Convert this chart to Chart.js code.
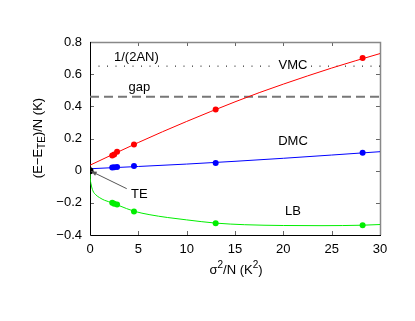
<!DOCTYPE html>
<html>
<head>
<meta charset="utf-8">
<script src="https://cdn.jsdelivr.net/npm/chart.js@4/dist/chart.umd.min.js"></script>
<style>
html,body{margin:0;padding:0;background:#fff;}
#wrap{width:415px;height:321px;position:relative;}
</style>
</head>
<body>
<div id="wrap"><canvas id="c" width="415" height="321"></canvas></div>
<script>
// ---- data ----
const xTicks = [0, 5, 10, 15, 20, 25, 30];
const yTicks = [-0.4, -0.2, 0, 0.2, 0.4, 0.6, 0.8];

// measured points (sigma^2/N)
const ptX   = [2.3, 2.5, 2.8, 4.55, 13.0, 28.2];
const vmcY  = [0.095, 0.100, 0.118, 0.163, 0.380, 0.700];
const dmcY  = [0.020, 0.021, 0.023, 0.029, 0.047, 0.111];
const lbY   = [-0.200, -0.206, -0.210, -0.254, -0.327, -0.340];
const teX   = [0];
const teY   = [0];

// fitted curves
const vmcFitX = [0, 2.5, 5, 7.5, 10, 12.5, 15, 17.5, 20, 22.5, 25, 27.5, 30];
const vmcFitY = [0.034, 0.105, 0.175, 0.242, 0.306, 0.368, 0.428, 0.485, 0.538, 0.589, 0.638, 0.684, 0.728];
const dmcFitX = [0, 10, 20, 30];
const dmcFitY = [0.012, 0.041, 0.077, 0.118];
const lbFitX = [0, 0.02, 0.1, 0.3, 0.6, 1, 1.5, 2.3, 3, 4.55, 6.2, 8, 10, 13, 16, 20, 24, 28.2, 30];
const lbFitY = [0, -0.04, -0.08, -0.125, -0.150, -0.168, -0.184, -0.200, -0.217, -0.252, -0.274, -0.291, -0.306, -0.326, -0.336, -0.341, -0.342, -0.339, -0.335];

// reference levels
const levelX = [0, 30];
const invAN = 0.65;
const gapLevel = 0.46;

// text labels [text, x, y]
const labels = [
  ['1/(2AN)', 4.8, 0.705, false],
  ['gap', 5.1, 0.516, false],
  ['VMC', 21.0, 0.655, true],
  ['DMC', 21.0, 0.182, false],
  ['LB', 21.0, -0.253, false],
  ['TE', 5.1, -0.149, false]
];
const arrowFrom = [3.8, -0.112];
const arrowTo = [0.12, -0.004];

const zip = (xs, ys) => xs.map((x, i) => ({x: x, y: ys[i]}));
const FONT = "'Liberation Sans', Arial, Helvetica, sans-serif";

const fmt = v => {
  const r = Math.round(v * 10) / 10;
  if (r === 0) return '0';
  const s = Math.abs(r).toString();
  return (r < 0 ? '\u2212' : '') + s;
};

const framePlugin = {
  id: 'frame',
  beforeDatasetsDraw(chart) {
    const {ctx, chartArea: a, scales: {x, y}} = chart;
    ctx.save();
    // ticks (inward)
    ctx.strokeStyle = '#666';
    ctx.lineWidth = 1;
    ctx.beginPath();
    xTicks.forEach(v => {
      if (v === 0 || v === 30) return;
      const px = Math.round(x.getPixelForValue(v)) + 0.5;
      ctx.moveTo(px, a.bottom); ctx.lineTo(px, a.bottom - 4);
      ctx.moveTo(px, a.top); ctx.lineTo(px, a.top + 4);
    });
    yTicks.forEach(v => {
      if (v === -0.4 || v === 0.8) return;
      const py = Math.round(y.getPixelForValue(v)) + 0.5;
      ctx.moveTo(a.left, py); ctx.lineTo(a.left + 4, py);
      ctx.moveTo(a.right, py); ctx.lineTo(a.right - 4, py);
    });
    ctx.stroke();
    // top and right (gray)
    ctx.strokeStyle = '#888';
    ctx.lineWidth = 1.5;
    ctx.beginPath();
    ctx.moveTo(a.left, a.top + 0.5); ctx.lineTo(a.right + 0.5, a.top + 0.5);
    ctx.lineTo(a.right + 0.5, a.bottom);
    ctx.stroke();
    // left and bottom (black)
    ctx.strokeStyle = '#000';
    ctx.lineWidth = 1;
    ctx.beginPath();
    ctx.moveTo(Math.round(a.left) + 0.5, a.top);
    ctx.lineTo(Math.round(a.left) + 0.5, Math.round(a.bottom) + 0.5);
    ctx.lineTo(a.right + 1, Math.round(a.bottom) + 0.5);
    ctx.stroke();
    ctx.restore();
  },
  afterDatasetsDraw(chart) {
    const {ctx, scales: {x, y}} = chart;
    ctx.save();
    ctx.font = '13px ' + FONT;
    ctx.textAlign = 'center';
    ctx.textBaseline = 'middle';
    labels.forEach(([t, lx, ly, bg]) => {
      const px = x.getPixelForValue(lx), py = y.getPixelForValue(ly);
      if (bg) {
        const w = ctx.measureText(t).width;
        ctx.fillStyle = '#fff';
        ctx.fillRect(px - w / 2 - 3, py - 7, w + 6, 14);
      }
      ctx.fillStyle = '#000';
      ctx.fillText(t, px, py);
    });
    // arrow
    const x1 = x.getPixelForValue(arrowFrom[0]), y1 = y.getPixelForValue(arrowFrom[1]);
    const x2 = x.getPixelForValue(arrowTo[0]), y2 = y.getPixelForValue(arrowTo[1]);
    ctx.strokeStyle = '#555';
    ctx.fillStyle = '#555';
    ctx.lineWidth = 1;
    ctx.beginPath(); ctx.moveTo(x1, y1); ctx.lineTo(x2, y2); ctx.stroke();
    const ang = Math.atan2(y2 - y1, x2 - x1), L = 6, W = 0.4;
    ctx.beginPath();
    ctx.moveTo(x2, y2);
    ctx.lineTo(x2 - L * Math.cos(ang - W), y2 - L * Math.sin(ang - W));
    ctx.lineTo(x2 - L * Math.cos(ang + W), y2 - L * Math.sin(ang + W));
    ctx.closePath(); ctx.fill();
    ctx.restore();
  },
  afterDraw(chart) {
    const {ctx, chartArea: a} = chart;
    const drawRich = (segs, cx, cy) => {
      let total = 0;
      segs.forEach(s => { ctx.font = (s[1] ? '10px ' : '13px ') + FONT; s.w = ctx.measureText(s[0]).width; total += s.w; });
      let px = cx - total / 2;
      segs.forEach(s => {
        ctx.font = (s[1] ? '10px ' : '13px ') + FONT;
        const off = s[1] === 'sub' ? 4 : (s[1] === 'sup' ? -5 : 0);
        ctx.fillText(s[0], px, cy + off);
        px += s.w;
      });
    };
    ctx.save();
    ctx.fillStyle = '#000';
    ctx.textAlign = 'left';
    ctx.textBaseline = 'middle';
    // x title
    drawRich([['\u03c3'], ['2', 'sup'], ['/N (K'], ['2', 'sup'], [')']], (a.left + a.right) / 2 + 1, 270);
    // y title
    ctx.translate(38, 138);
    ctx.rotate(-Math.PI / 2);
    drawRich([['(E\u2212E'], ['TE', 'sub'], [')/N (K)']], 0, 0);
    ctx.restore();
  }
};

const line = (data, color, extra) => Object.assign({
  data: data, showLine: true, borderColor: color, backgroundColor: color,
  borderWidth: 1, pointRadius: 0, pointHoverRadius: 0, tension: 0.4,
  cubicInterpolationMode: 'monotone', fill: false
}, extra || {});
const pts = (data, color) => ({
  data: data, showLine: false, borderColor: color, backgroundColor: color,
  pointRadius: 3, pointBorderWidth: 0, order: 0
});

new Chart(document.getElementById('c'), {
  type: 'scatter',
  data: {
    datasets: [
      line(zip(levelX, [invAN, invAN]), '#000', {borderDash: [1, 7.5], borderWidth: 1, tension: 0, order: 5}),
      line(zip(levelX, [gapLevel, gapLevel]), '#777', {borderDash: [9, 5], borderWidth: 2, tension: 0, order: 5}),
      line(zip(vmcFitX, vmcFitY), '#ff0000', {order: 3}),
      line(zip(dmcFitX, dmcFitY), '#0000ff', {order: 3}),
      line(zip(lbFitX, lbFitY), '#00ee00', {order: 3}),
      pts(zip(ptX, vmcY), '#ff0000'),
      pts(zip(ptX, dmcY), '#0000ff'),
      pts(zip(ptX, lbY), '#00ee00'),
      Object.assign(pts(zip(teX, teY), '#000'), {pointRadius: 3.5})
    ]
  },
  options: {
    responsive: false,
    animation: false,
    events: [],
    layout: {padding: {left: 0, top: 42, right: 35, bottom: 0}},
    plugins: {legend: {display: false}, tooltip: {enabled: false}},
    scales: {
      x: {
        type: 'linear', min: 0, max: 30,
        afterFit: s => { s.height = 86; },
        afterBuildTicks: s => { s.ticks = xTicks.map(v => ({value: v})); },
        grid: {display: false, drawTicks: false},
        border: {display: false},
        ticks: {padding: 7, color: '#000', font: {size: 13, family: FONT}, maxRotation: 0, callback: v => fmt(v)}
      },
      y: {
        type: 'linear', min: -0.4, max: 0.8,
        afterFit: s => { s.width = 90; },
        afterBuildTicks: s => { s.ticks = yTicks.map(v => ({value: v})); },
        grid: {display: false, drawTicks: false},
        border: {display: false},
        ticks: {padding: 8, color: '#000', font: {size: 13, family: FONT}, callback: v => fmt(v)}
      }
    }
  },
  plugins: [framePlugin]
});
</script>
</body>
</html>
